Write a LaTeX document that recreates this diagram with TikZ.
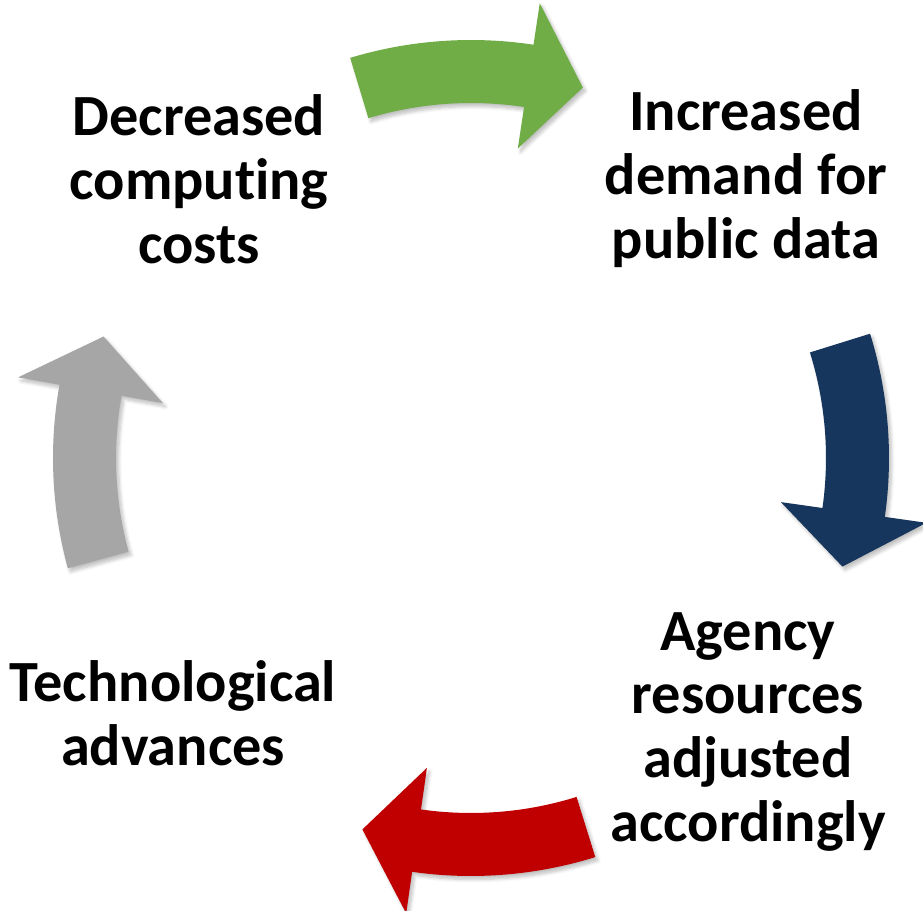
\documentclass[tikz,border=0pt]{standalone}
\usepackage{fontspec}
\setmainfont{Carlito}[Ligatures=NoCommon]
\usetikzlibrary{shadows.blur}
\definecolor{cyclegreen}{RGB}{112, 173, 71}
\definecolor{cyclenavy}{RGB}{23, 54, 93}
\definecolor{cyclered}{RGB}{192, 0, 0}
\definecolor{cyclegray}{RGB}{166, 166, 166}

% curved block arrow, clockwise, centred on angle #1
\newcommand{\cyclearrow}[2]{%
  \fill[bentarrow, #2]
    (#1+16.8:418) arc[start angle=#1+16.8, end angle=#1-8.6, radius=418]
    -- (#1-8.6:460) -- (#1-16.8:387) -- (#1-8.6:313)
    -- (#1-8.6:355) arc[start angle=#1-8.6, end angle=#1+16.8, radius=355]
    -- cycle;
}

\begin{document}
\begin{tikzpicture}[
    x=0.02cm, y=0.02cm,
    phase/.style={
      align=center,
      font=\fontsize{33.2}{36.4}\selectfont\bfseries,
      inner sep=0pt
    },
    bentarrow/.style={
      blur shadow={shadow xshift=1.5pt, shadow yshift=-2pt,
        shadow opacity=25, shadow blur steps=6}
    }
  ]
    \useasboundingbox (0,0) rectangle (923,910);

    \begin{scope}[shift={(471,452)}]
      \cyclearrow{90}{cyclegreen}
      \cyclearrow{0.5}{cyclenavy}
      \cyclearrow{-89.5}{cyclered}
      \cyclearrow{178.5}{cyclegray}
    \end{scope}

    \node[phase] (costs) at (199,731) {Decreased\\computing\\costs};
    \node[phase] (demand) at (746,731) {Increased\\demand for\\public data};
    \node[phase] (agency) at (748,178) {Agency\\resources\\adjusted\\accordingly};
    \node[phase] (tech) at (173,197) {Technological\\advances};
  \end{tikzpicture}
\end{document}
